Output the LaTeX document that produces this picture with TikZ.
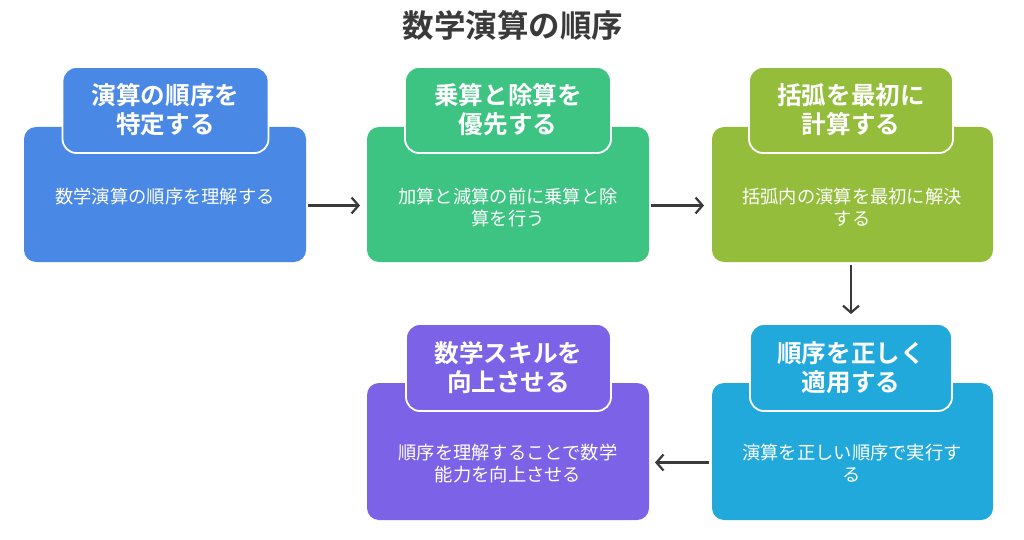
\documentclass[tikz,border=0pt]{standalone}
\usepackage{fontspec}
\setmainfont{Noto Sans CJK JP}[BoldFont={Noto Sans CJK JP Bold}]
\usetikzlibrary{arrows.meta}
\definecolor{cblue}{HTML}{4A88E5}
\definecolor{cgreen}{HTML}{3DC482}
\definecolor{clime}{HTML}{93BD3A}
\definecolor{cpurple}{HTML}{7B62E6}
\definecolor{ccyan}{HTML}{22A9DB}
\definecolor{arrowc}{HTML}{3A3A3A}
\definecolor{titlec}{HTML}{3A3A3A}
\begin{document}
\begin{tikzpicture}[x=1pt,y=-1pt,
  body/.style={draw=none, fill=#1, rounded corners=12pt, minimum width=282pt, minimum height=135pt, anchor=north west, inner sep=0pt, outer sep=0pt},
  head/.style={draw=white, line width=1.8pt, fill=#1, rounded corners=14pt, minimum width=206pt, minimum height=86pt, text=white, font=\bfseries\fontsize{24.6}{29}\selectfont, align=center, inner sep=0pt},
  desc/.style={text=white, font=\fontsize{18.3}{22}\selectfont, align=center, anchor=north, inner sep=0pt},
  conn/.style={draw=arrowc, line width=2.2pt, -{Straight Barb[length=7pt,width=16pt,line width=2.2pt]}},
  ttl/.style={text=titlec, font=\bfseries\fontsize{31.5}{34}\selectfont, inner sep=0pt}]
\useasboundingbox (0,0) rectangle (1024,540);
\fill[white] (0,0) rectangle (1024,540);

\node[ttl] (title) at (513,25) {数学演算の順序};

% box 1
\node[body=cblue] (b1) at (24,127) {};
\node[head=cblue] (h1) at (165.5,110) {演算の順序を\\特定する};
\node[desc] (t1) at (165,188) {数学演算の順序を理解する};

% box 2
\node[body=cgreen] (b2) at (367,127) {};
\node[head=cgreen] (h2) at (508,110) {乗算と除算を\\優先する};
\node[desc] (t2) at (508,188) {加算と減算の前に乗算と除\\算を行う};

% box 3
\node[body=clime, minimum width=281pt] (b3) at (712,127) {};
\node[head=clime, minimum width=204pt] (h3) at (851,110) {括弧を最初に\\計算する};
\node[desc] (t3) at (852,188) {括弧内の演算を最初に解決\\する};

% box 4
\node[body=cpurple, minimum height=137pt] (b4) at (367,383) {};
\node[head=cpurple, minimum width=205pt, minimum height=87pt] (h4) at (508.5,367.5) {数学スキルを\\向上させる};
\node[desc] (t4) at (508,444) {順序を理解することで数学\\能力を向上させる};

% box 5
\node[body=ccyan, minimum width=281pt, minimum height=137pt] (b5) at (712,383) {};
\node[head=ccyan, minimum width=202pt, minimum height=87pt] (h5) at (851,367.5) {順序を正しく\\適用する};
\node[desc] (t5) at (852,444) {演算を正しい順序で実行す\\る};

% connectors
\draw[conn, shorten <=2pt, shorten >=7pt] ([yshift=-11pt]b1.east) -- ([yshift=-11pt]b2.west);
\draw[conn, shorten <=2pt, shorten >=8pt] ([yshift=-11pt]b2.east) -- ([yshift=-11pt]b3.west);
\draw[conn, shorten <=3pt, shorten >=9pt] (b3.south -| h5.north) -- (h5.north);
\draw[conn, shorten <=3pt, shorten >=6pt] ([yshift=-11pt]b5.west) -- ([yshift=-11pt]b4.east);
\end{tikzpicture}
\end{document}
